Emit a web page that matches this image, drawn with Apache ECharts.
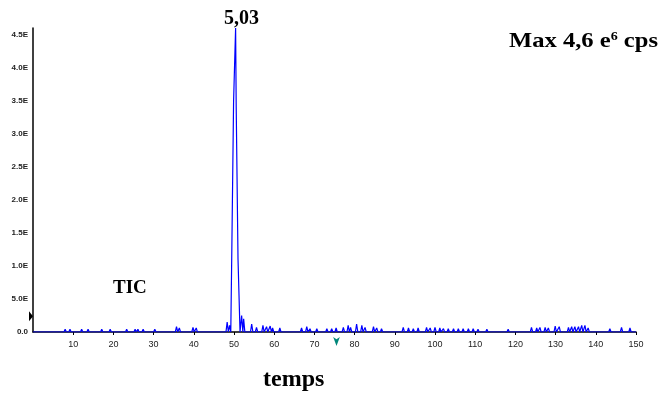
<!DOCTYPE html>
<html>
<head>
<meta charset="utf-8">
<script src="https://cdn.jsdelivr.net/npm/echarts@6/dist/echarts.min.js"></script>
<style>html,body{margin:0;padding:0;background:#fff}#c{width:665px;height:394px}</style>
</head>
<body>
<div id="c"></div>
<script>
// Main peak profile (x in axis units, intensity in cps)
var peakX = [49.4, 49.45, 49.85, 49.9, 50.25, 50.4, 50.55, 50.95, 51.0, 51.45, 51.5];
var peakY = [0, 1.2e6, 1.2e6, 3.5e6, 3.5e6, 4.6e6, 3.4e6, 3.4e6, 1.1e6, 1.1e6, 0];

// Baseline noise blips
var noiseX = [8.0, 9.2, 12.1, 13.7, 17.1, 19.2, 23.3, 25.4, 26.1, 27.4, 30.3, 35.7, 36.4, 39.8, 40.6,
  48.3, 48.9, 51.9, 52.4, 54.4, 55.6, 57.2, 58.1, 59.0, 59.6, 61.4, 66.8, 68.1, 68.9, 70.6, 73.1,
  74.3, 75.4, 77.2, 78.4, 79.0, 80.5, 81.8, 82.6, 84.7, 85.5, 86.7, 92.1, 93.4, 94.6, 95.8, 97.9,
  98.8, 100.0, 101.2, 102.1, 103.3, 104.6, 105.8, 107.0, 108.3, 109.5, 110.7, 112.9, 118.2, 118.7,
  124.0, 125.3, 126.1, 127.4, 128.2, 129.9, 130.9, 133.2, 134.0, 134.8, 135.7, 136.5, 137.3, 138.1,
  143.5, 146.4, 148.5];
var noiseY = [0.04e6, 0.04e6, 0.04e6, 0.04e6, 0.04e6, 0.04e6, 0.04e6, 0.04e6, 0.04e6, 0.04e6, 0.04e6, 0.08e6, 0.06e6, 0.07e6, 0.06e6,
  0.15e6, 0.1e6, 0.25e6, 0.2e6, 0.12e6, 0.07e6, 0.1e6, 0.08e6, 0.09e6, 0.06e6, 0.06e6, 0.06e6, 0.08e6, 0.05e6, 0.05e6, 0.05e6,
  0.05e6, 0.06e6, 0.07e6, 0.1e6, 0.07e6, 0.12e6, 0.1e6, 0.07e6, 0.08e6, 0.06e6, 0.05e6, 0.07e6, 0.06e6, 0.05e6, 0.06e6, 0.07e6,
  0.06e6, 0.07e6, 0.06e6, 0.05e6, 0.05e6, 0.05e6, 0.05e6, 0.05e6, 0.05e6, 0.05e6, 0.04e6, 0.04e6, 0.04e6, 0.03e6,
  0.07e6, 0.06e6, 0.07e6, 0.07e6, 0.06e6, 0.09e6, 0.08e6, 0.07e6, 0.08e6, 0.08e6, 0.08e6, 0.1e6, 0.1e6, 0.06e6,
  0.05e6, 0.07e6, 0.06e6];

var xTicks = [10, 20, 30, 40, 50, 60, 70, 80, 90, 100, 110, 120, 130, 140, 150];
var yTickLabels = ['0.0', '5.0E', '1.0E', '1.5E', '2.0E', '2.5E', '3.0E', '3.5E', '4.0E', '4.5E'];
var peakLabel = '5,03';

// Build trace: baseline + blips before the peak, the peak, blips after
var pts = [[0, 0]];
function addBlips(filter) {
  noiseX.forEach(function (x, i) {
    if (filter(x)) pts.push([x - 0.3, 0], [x, noiseY[i]], [x + 0.3, 0]);
  });
}
addBlips(function (x) { return x < peakX[0]; });
peakX.forEach(function (x, i) { pts.push([x, peakY[i]]); });
addBlips(function (x) { return x > peakX[peakX.length - 1]; });
pts.push([150, 0]);

var chart = echarts.init(document.getElementById('c'));
var serif = '"Liberation Serif", "Times New Roman", serif';
chart.setOption({
  animation: false,
  grid: { left: 33, right: 29, top: 28, bottom: 62 },
  xAxis: {
    type: 'value', min: 0, max: 150, interval: 10,
    axisLine: { lineStyle: { color: '#000', width: 1.5 } },
    axisTick: { show: true, length: 3, lineStyle: { color: '#000' } },
    splitLine: { show: false },
    axisLabel: {
      showMinLabel: false, margin: 8, color: '#222', fontSize: 9,
      fontFamily: 'Liberation Sans, Arial, sans-serif',
      formatter: function (v) { return xTicks.indexOf(v) >= 0 ? String(v) : ''; }
    }
  },
  yAxis: {
    type: 'value', min: 0, max: 4.6e6, interval: 5e5,
    axisLine: { show: true, lineStyle: { color: '#000', width: 1.5 } },
    axisTick: { show: false },
    splitLine: { show: false },
    axisLabel: {
      showMaxLabel: false, margin: 5, color: '#222', fontSize: 8, fontWeight: 'bold',
      fontFamily: 'Liberation Sans, Arial, sans-serif',
      formatter: function (v) { var i = Math.round(v / 5e5); return yTickLabels[i] || ''; }
    }
  },
  series: [{
    type: 'line', data: pts, symbol: 'none', silent: true,
    lineStyle: { color: '#0000ff', width: 1.2 },
    markPoint: {
      silent: true,
      data: [
        { coord: [50.4, 4.6e6], symbol: 'circle', symbolSize: 0,
          itemStyle: { color: 'rgba(0,0,0,0)' },
          label: { show: true, formatter: peakLabel, position: 'top', distance: -1, offset: [6, 0],
            color: '#000', fontFamily: serif, fontWeight: 'bold', fontSize: 20 } },
        { coord: [75.5, 0], symbol: 'arrow', symbolRotate: 180, symbolSize: [5, 9],
          symbolOffset: [0, 14], itemStyle: { color: '#00877a' }, label: { show: false } },
        { coord: [0, 0.24e6], symbol: 'triangle', symbolRotate: -90, symbolSize: [10, 4],
          symbolOffset: [-2, 0], itemStyle: { color: '#000' }, label: { show: false } }
      ]
    }
  }],
  graphic: [
    { type: 'text', x: 509, y: 31, scaleX: 1.17, style: {
      text: '{a|Max 4,6 e}{s|6}{a| cps}',
      rich: {
        a: { font: 'bold 21px ' + serif, fill: '#000', color: '#000' },
        s: { font: 'bold 12px ' + serif, fill: '#000', color: '#000', padding: [0, 0, 10, 0] }
      }
    } },
    { type: 'text', left: 113, top: 279, style: { text: 'TIC', font: 'bold 19px ' + serif, fill: '#000' } },
    { type: 'text', left: 263, top: 368, style: { text: 'temps', font: 'bold 24px ' + serif, fill: '#000' } }
  ]
});
</script>
</body>
</html>
